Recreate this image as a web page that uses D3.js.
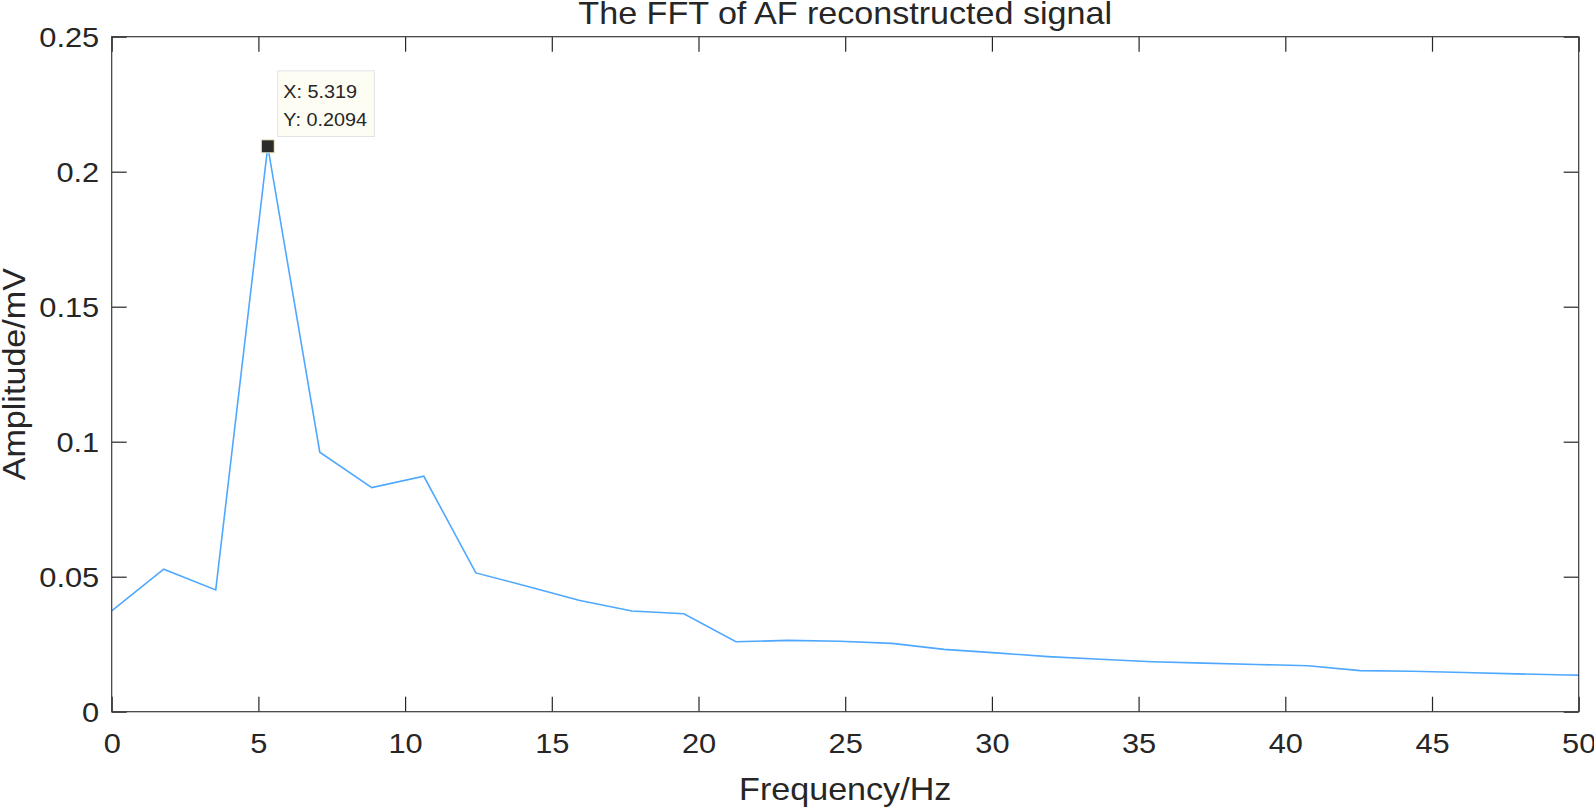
<!DOCTYPE html>
<html>
<head>
<meta charset="utf-8">
<script src="https://cdn.jsdelivr.net/npm/d3@7"></script>
<style>
  body { margin: 0; background: #fff; }
  text { font-family: "Liberation Sans", Arial, Helvetica, sans-serif; fill: #262626; }
</style>
</head>
<body>
<div id="chart"></div>
<script>
// frequency bins (Hz) and FFT amplitude (mV)
const freqs = [0, 1.773, 3.546, 5.319, 7.092, 8.865, 10.638, 12.411, 14.184, 15.957,
  17.730, 19.503, 21.276, 23.049, 24.822, 26.595, 28.368, 30.141, 31.914, 33.687,
  35.460, 37.233, 39.006, 40.779, 42.552, 44.325, 46.098, 47.871, 49.644, 51.417];
const amps = [0.0373, 0.0528, 0.0451, 0.2094, 0.0961, 0.0830, 0.0872, 0.0514, 0.0464, 0.0412,
  0.0373, 0.0363, 0.0259, 0.0264, 0.0261, 0.0253, 0.0231, 0.0218, 0.0204, 0.0194,
  0.0185, 0.0180, 0.0175, 0.0170, 0.0152, 0.0150, 0.0145, 0.0140, 0.0136, 0.0133];
const xTicks = [0, 5, 10, 15, 20, 25, 30, 35, 40, 45, 50];
const yTicks = [0, 0.05, 0.1, 0.15, 0.2, 0.25];
const tipPoint = { x: 5.319, y: 0.2094 };

const width = 1594;
const height = 807;
const margin = { top: 36.7, right: 15.3, bottom: 95.3, left: 111.7 };
const innerW = width - margin.left - margin.right;
const innerH = height - margin.top - margin.bottom;
const STRETCH = 1.1; // text in the figure is a bit wider than plain Arial
const TICK_LEN = 15;

const svg = d3
  .select("#chart")
  .append("svg")
  .attr("width", width)
  .attr("height", height);

const g = svg
  .append("g")
  .attr("transform", `translate(${margin.left},${margin.top})`);

const x = d3.scaleLinear().domain([0, 50]).range([0, innerW]);
const y = d3.scaleLinear().domain([0, 0.25]).range([innerH, 0]);

const fmt = (d) => (d === 0 ? "0" : String(d));

// clip
svg
  .append("defs")
  .append("clipPath")
  .attr("id", "plotClip")
  .append("rect")
  .attr("width", innerW)
  .attr("height", innerH);

// data line
const line = d3
  .line()
  .x((d, i) => x(freqs[i]))
  .y((d) => y(d));

g.append("path")
  .datum(amps)
  .attr("clip-path", "url(#plotClip)")
  .attr("fill", "none")
  .attr("stroke", "#4fa8ff")
  .attr("stroke-width", 1.6)
  .attr("d", line);

// axes with inward ticks, MATLAB box style
function styleAxis(sel) {
  sel.select(".domain").remove();
  sel.selectAll("line").attr("stroke", "#262626").attr("stroke-width", 1.2);
  sel.selectAll("text")
    .attr("fill", "#262626")
    .style("font-size", "28px");
}

const xAxis = g
  .append("g")
  .attr("transform", `translate(0,${innerH})`)
  .call(d3.axisBottom(x).tickValues(xTicks).tickFormat(fmt).tickSizeInner(-TICK_LEN).tickSizeOuter(0).tickPadding(0))
  .call(styleAxis);
xAxis.selectAll("text")
  .attr("y", 0)
  .attr("dy", 0)
  .attr("transform", `translate(0,41.5) scale(${STRETCH},1)`);

g.append("g")
  .call(d3.axisTop(x).tickValues(xTicks).tickFormat("").tickSizeInner(-TICK_LEN).tickSizeOuter(0))
  .call(styleAxis);

const yAxis = g
  .append("g")
  .call(d3.axisLeft(y).tickValues(yTicks).tickFormat(fmt).tickSizeInner(-TICK_LEN).tickSizeOuter(0).tickPadding(0))
  .call(styleAxis);
yAxis.selectAll("text")
  .attr("x", 0)
  .attr("dy", "0.36em")
  .attr("transform", `translate(-12.5,0) scale(${STRETCH},1)`);

g.append("g")
  .attr("transform", `translate(${innerW},0)`)
  .call(d3.axisRight(y).tickValues(yTicks).tickFormat("").tickSizeInner(-TICK_LEN).tickSizeOuter(0))
  .call(styleAxis);

// box
g.append("rect")
  .attr("width", innerW)
  .attr("height", innerH)
  .attr("fill", "none")
  .attr("stroke", "#3a3a3a")
  .attr("stroke-width", 1.2);

// title and labels
svg.append("text")
  .attr("text-anchor", "middle")
  .attr("transform", `translate(${margin.left + innerW / 2},24) scale(${STRETCH},1)`)
  .style("font-size", "31px")
  .text("The FFT of AF reconstructed signal");

svg.append("text")
  .attr("text-anchor", "middle")
  .attr("transform", `translate(${margin.left + innerW / 2},800) scale(${STRETCH},1)`)
  .style("font-size", "31px")
  .text("Frequency/Hz");

svg.append("text")
  .attr("text-anchor", "middle")
  .attr("transform", `translate(24.5,${margin.top + innerH / 2}) rotate(-90) scale(${STRETCH},1)`)
  .style("font-size", "31px")
  .text("Amplitude/mV");

// data tip
const mx = x(tipPoint.x);
const my = y(tipPoint.y);

g.append("rect")
  .attr("x", mx - 6.5)
  .attr("y", my - 6.5)
  .attr("width", 13)
  .attr("height", 13)
  .attr("fill", "#2b2b2b")
  .attr("stroke", "#f3ecc8")
  .attr("stroke-width", 1);

const tip = g.append("g").attr("transform", `translate(${mx + 10},${my - 75.5})`);
tip.append("rect")
  .attr("width", 96.6)
  .attr("height", 65.7)
  .attr("fill", "#fdfdf3")
  .attr("stroke", "#e2e4e4")
  .attr("stroke-width", 1);
tip.append("text")
  .attr("transform", `translate(5.6,27.3) scale(${STRETCH},1)`)
  .style("font-size", "18px")
  .text(`X: ${tipPoint.x}`);
tip.append("text")
  .attr("transform", `translate(5.6,54.7) scale(${STRETCH},1)`)
  .style("font-size", "18px")
  .text(`Y: ${tipPoint.y}`);
</script>
</body>
</html>
